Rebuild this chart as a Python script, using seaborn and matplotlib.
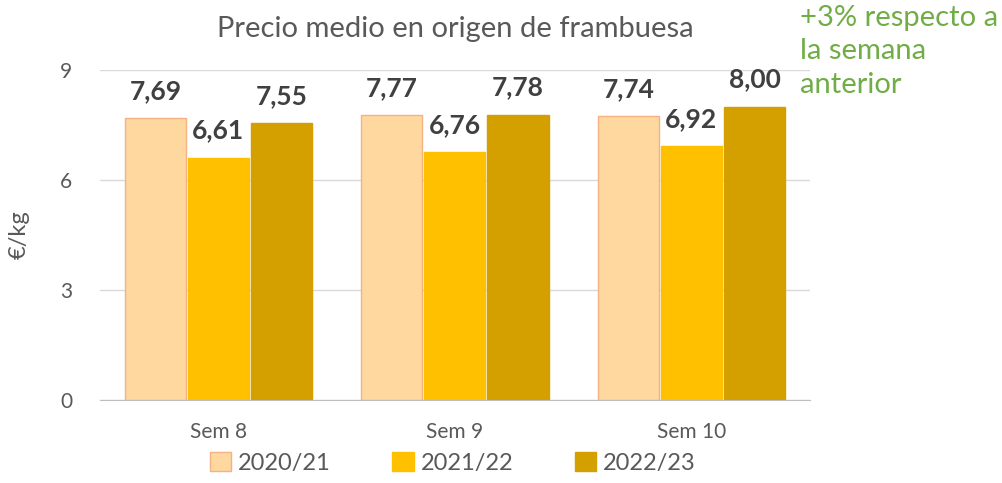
import pandas as pd
import numpy as np
import matplotlib
matplotlib.use("Agg")
import matplotlib.pyplot as plt
import seaborn as sns

# data
weeks = ['Sem 8', 'Sem 9', 'Sem 10']
seasons = ['2020/21', '2021/22', '2022/23']
vals_2020 = [7.69, 7.77, 7.74]
vals_2021 = [6.61, 6.76, 6.92]
vals_2022 = [7.55, 7.78, 8.00]

colors = ['#FFD8A0', '#FFC000', '#D4A000']
edges = ['#F4B183', '#FFC000', '#D4A000']

df = pd.DataFrame({
    'semana': weeks * 3,
    'campana': [s for s in seasons for _ in weeks],
    'precio': vals_2020 + vals_2021 + vals_2022,
})

sns.set_style('white')
plt.rcParams['font.family'] = ['Lato', 'DejaVu Sans']

fig = plt.figure(figsize=(10.02, 4.83), dpi=100)
ax = fig.add_axes([0.1, 0.172, 0.708, 0.683])

sns.barplot(data=df, x='semana', y='precio', hue='campana', palette=colors,
            width=0.8, gap=0.03, ax=ax, legend=False, saturation=1)

for i, cont in enumerate(ax.containers):
    for bar in cont:
        bar.set_edgecolor(edges[i])
        bar.set_linewidth(1)
    ax.bar_label(cont, labels=[f'{v:.2f}'.replace('.', ',') for v in cont.datavalues],
                 padding=11, fontsize=19, fontweight='bold', color='#404040')

ax.set_ylim(0, 9)
ax.set_yticks([0, 3, 6, 9])
ax.set_xlim(-0.5, 2.5)
ax.yaxis.grid(True, color='#D9D9D9', linewidth=1)
ax.set_axisbelow(True)
for s in ['top', 'right', 'left']:
    ax.spines[s].set_visible(False)
ax.spines['bottom'].set_color('#BFBFBF')
ax.tick_params(axis='both', length=0, labelsize=15, colors='#595959')
ax.tick_params(axis='x', pad=16)
ax.tick_params(axis='y', pad=20)
ax.set_xlabel('')
ax.set_ylabel('€/kg', fontsize=17, color='#595959', labelpad=22)

ax.set_title('Precio medio en origen de frambuesa', fontsize=21, color='#595959', pad=24)

handles = [plt.Rectangle((0, 0), 1, 1, facecolor=colors[i], edgecolor=edges[i]) for i in range(3)]
fig.legend(handles, seasons, loc='lower center', bbox_to_anchor=(0.452, -0.025), ncol=3,
           frameon=False, fontsize=17, handlelength=0.9, handleheight=0.9,
           handletextpad=0.3, columnspacing=2.6, labelcolor='#595959')

fig.text(0.798, 0.99, '+3% respecto a\nla semana\nanterior', fontsize=21, color='#70AD47',
         va='top', ha='left', linespacing=1.35)

fig.savefig('out.png', dpi=100)
